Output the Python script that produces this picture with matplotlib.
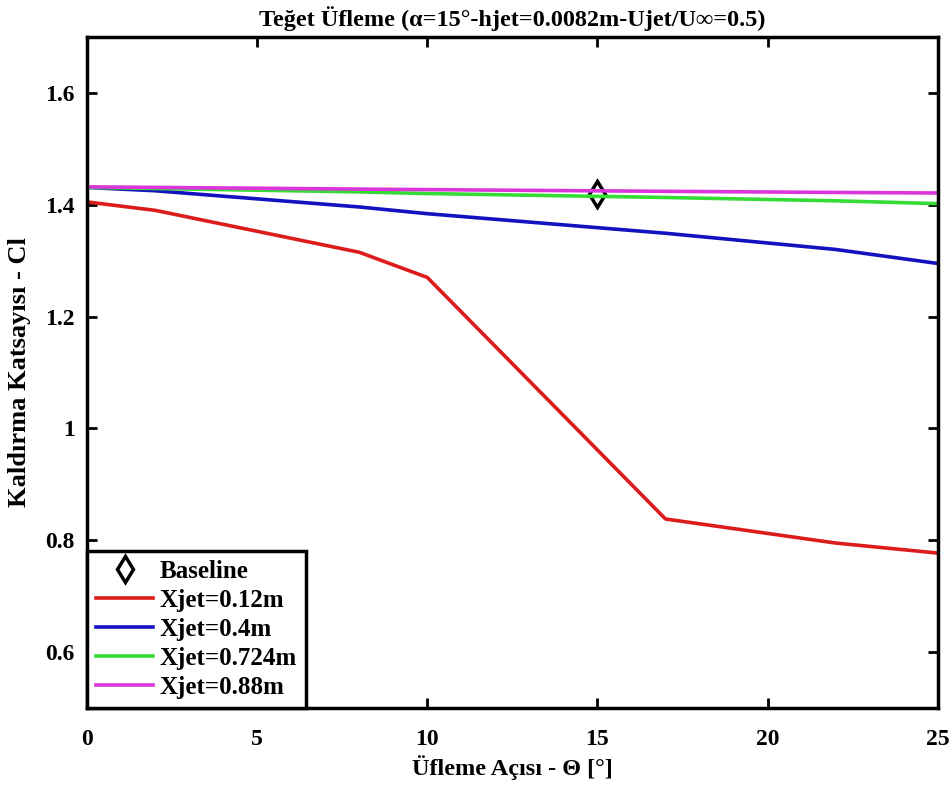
import matplotlib.pyplot as plt
import matplotlib

matplotlib.rcParams["font.family"] = ["Liberation Serif", "DejaVu Serif"]
matplotlib.rcParams["font.weight"] = "bold"

# Üfleme açısı (derece)
theta = [0, 2, 8, 10, 17, 22, 25]

cl_012 = [1.405, 1.39, 1.315, 1.27, 0.838, 0.795, 0.777]
cl_04 = [1.431, 1.425, 1.396, 1.384, 1.349, 1.320, 1.295]
cl_0724 = [1.431, 1.429, 1.423, 1.420, 1.413, 1.407, 1.402]
cl_088 = [1.432, 1.431, 1.428, 1.427, 1.424, 1.422, 1.421]

base_theta = [15]
base_cl = [1.42]

series = [
    ("Xjet=0.12m", cl_012, "#dc1c1c"),
    ("Xjet=0.4m", cl_04, "#1212c0"),
    ("Xjet=0.724m", cl_0724, "#35dc35"),
    ("Xjet=0.88m", cl_088, "#dc35dc"),
]

fig = plt.figure(figsize=(9.52, 7.87), dpi=100)
ax = fig.add_axes([0.0914, 0.1004, 0.8936, 0.8526])

ax.plot(base_theta, base_cl, linestyle="none", marker="d", markersize=13,
        markerfacecolor="white", markeredgecolor="black", markeredgewidth=2.5,
        label="Baseline")
for lab, vals, col in series:
    ax.plot(theta, vals, color=col, linewidth=2.6, label=lab)

ax.set_xlim(0, 25)
ax.set_ylim(0.5, 1.7)
ax.set_xticks([0, 5, 10, 15, 20, 25])
ax.set_yticks([0.6, 0.8, 1.0, 1.2, 1.4, 1.6])
ax.set_yticklabels(["0.6", "0.8", "1", "1.2", "1.4", "1.6"])
ax.tick_params(direction="in", length=7, width=2, top=True, right=True,
               labelsize=17)
ax.tick_params(axis="x", pad=15)
ax.tick_params(axis="y", pad=9)
for sp in ax.spines.values():
    sp.set_linewidth(2.5)

ax.set_title("Teğet Üfleme (α=15°-hjet=0.0082m-Ujet/U∞=0.5)",
             fontsize=17.5, fontweight="bold", pad=8)
ax.set_xlabel("Üfleme Açısı - Θ [°]", fontsize=17.5, fontweight="bold", labelpad=4)
ax.set_ylabel("Kaldırma Katsayısı - Cl", fontsize=19, fontweight="bold", labelpad=10)

leg = ax.legend(loc="lower left", borderaxespad=0, fancybox=False,
                framealpha=1, edgecolor="black", fontsize=18,
                handlelength=2.3, handletextpad=0.25, labelspacing=0.24,
                borderpad=0.35)
leg.get_frame().set_linewidth(2.5)

plt.savefig("out.png", dpi=100)
